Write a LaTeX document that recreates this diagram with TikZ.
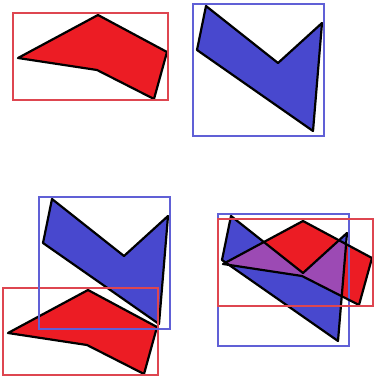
\documentclass[tikz,border=0pt]{standalone}
\usepackage{tikz}
\definecolor{polyred}{RGB}{236,28,36}
\definecolor{polyblue}{RGB}{72,72,206}
\definecolor{polymix}{RGB}{156,74,180}
\definecolor{boxred}{RGB}{222,70,80}
\definecolor{boxblue}{RGB}{96,96,214}

% shapes in the coordinates of the top row
\def\redpoly{(18,58) -- (98,15) -- (167,52) -- (154,99) -- (97,70) -- cycle}
\def\bluepoly{(206,6) -- (278,63) -- (322,23) -- (313,131) -- (197,50) -- cycle}
\def\redbox{(13,13) rectangle (168,100)}
\def\bluebox{(193,4) rectangle (324,136)}

\begin{document}
\begin{tikzpicture}[x=1pt,y=-1pt,
  outline/.style={draw=black,line width=2.2pt,line join=round},
  rbox/.style={draw=boxred,line width=1.7pt},
  bbox/.style={draw=boxblue,line width=1.7pt}]
\useasboundingbox (0,0) rectangle (375,383);

% ---- top row: the two shapes apart ----
\fill[polyred] \redpoly;
\draw[outline] \redpoly;
\draw[rbox] \redbox;
\fill[polyblue] \bluepoly;
\draw[outline] \bluepoly;
\draw[bbox] \bluebox;

% ---- bottom left: boxes overlap, shapes do not ----
\begin{scope}[shift={(-154,193)}]
  \fill[polyblue] \bluepoly;
  \draw[outline] \bluepoly;
\end{scope}
\begin{scope}[shift={(-10,275)}]
  \fill[polyred] \redpoly;
  \draw[outline] \redpoly;
  \draw[rbox] \redbox;
\end{scope}
\begin{scope}[shift={(-154,193)}]
  \draw[bbox] \bluebox;
\end{scope}

% ---- bottom right: shapes overlap ----
\fill[polyblue,shift={(25,210)}] \bluepoly;
\fill[polyred,shift={(205,206)}] \redpoly;
\begin{scope}
  \clip[shift={(25,210)}] \bluepoly;
  \fill[polymix,shift={(205,206)}] \redpoly;
\end{scope}
\begin{scope}[shift={(25,210)}]
  \draw[outline] \bluepoly;
  \draw[bbox] \bluebox;
\end{scope}
\begin{scope}[shift={(205,206)}]
  \draw[outline] \redpoly;
  \draw[rbox] \redbox;
\end{scope}

\end{tikzpicture}
\end{document}
